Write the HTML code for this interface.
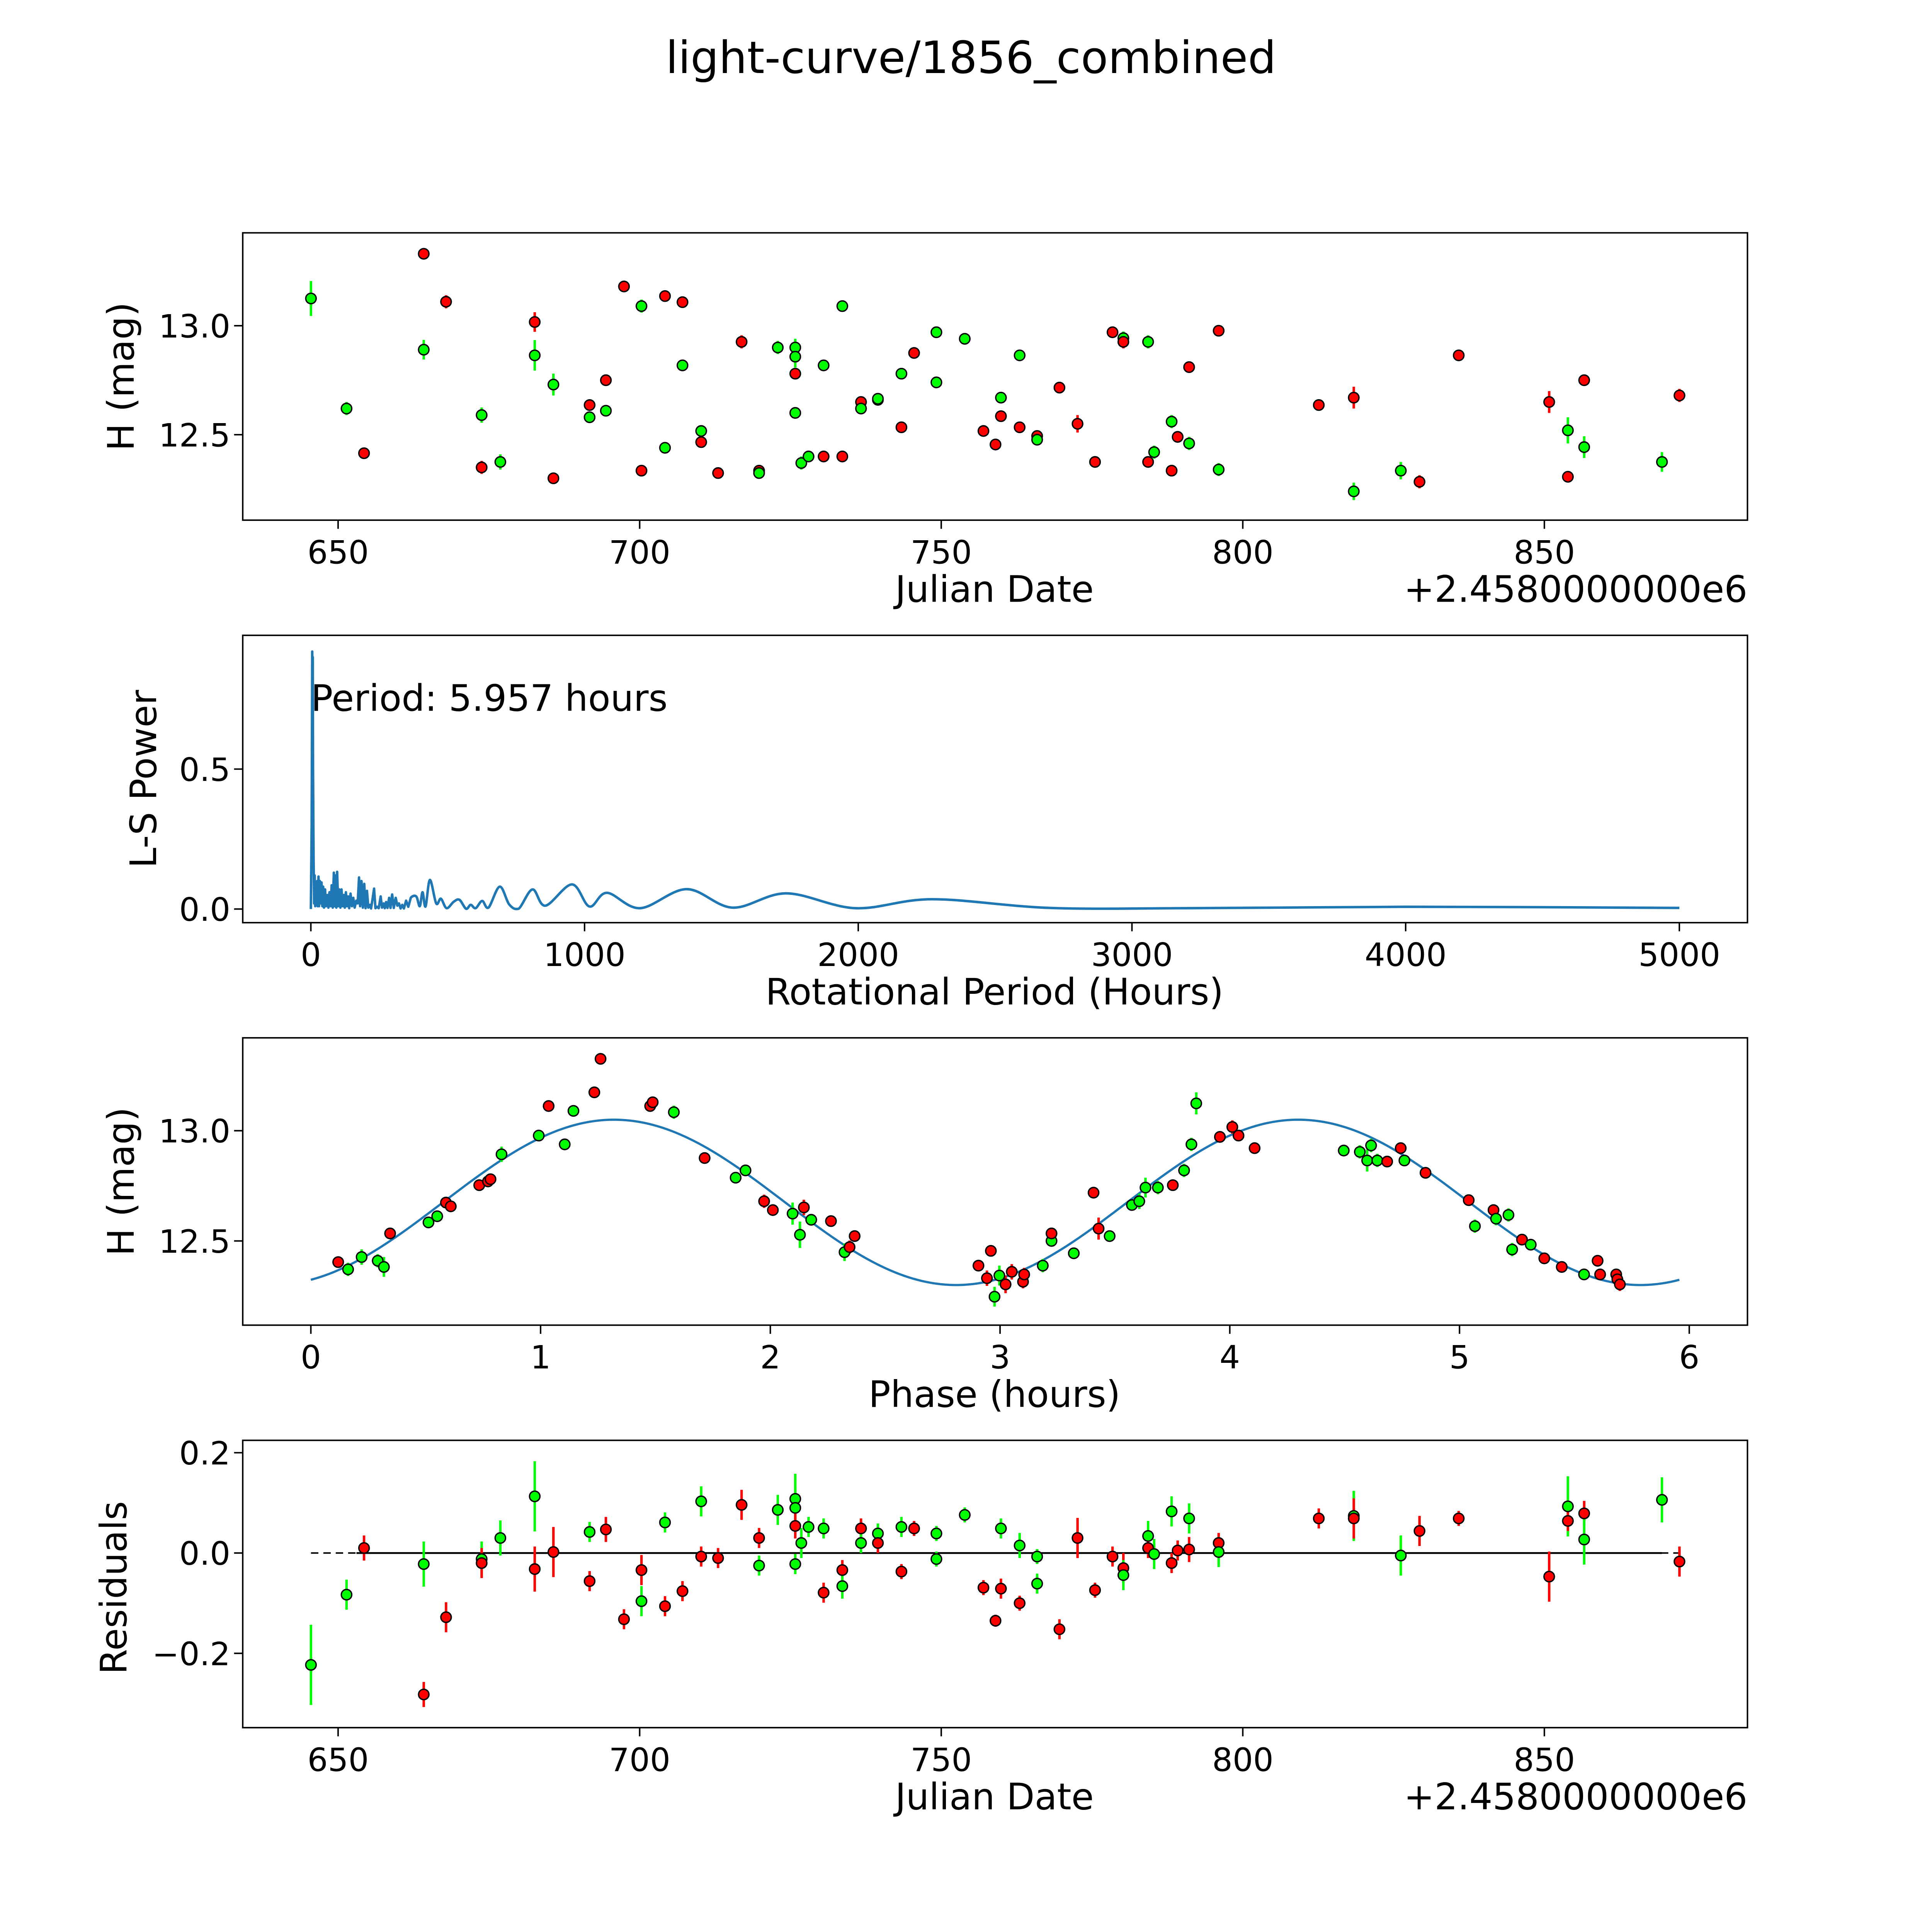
<!DOCTYPE html>
<html><head><meta charset="utf-8"><style>
html,body{margin:0;padding:0;background:#fff;overflow:hidden;width:100%;height:100%;}
svg{display:block;position:absolute;left:0;top:0;width:100vw;height:100vh;font-family:"DejaVu Sans","Liberation Sans",sans-serif;}
</style></head><body>
<svg id="fig" xmlns="http://www.w3.org/2000/svg" viewBox="0 0 1560 1560" preserveAspectRatio="none">
<rect x="0" y="0" width="1560" height="1560" fill="#fff"/>
<text x="784" y="59" font-size="36" text-anchor="middle">light-curve/1856_combined</text>
<g id="g1"></g>
<g id="g2"></g>
<g id="g3"></g>
<g id="g4"></g>
</svg>
<script>
// ---- Panel 1: light curve ----
const lcJD=[645.5,651.4,654.3,664.2,664.2,667.9,673.8,673.8,676.9,682.6,682.6,685.7,685.7,691.7,691.7,694.4,694.4,697.4,700.3,700.3,704.2,704.2,707.1,707.1,710.2,710.2,713.0,716.9,719.8,719.8,722.9,725.8,725.8,725.8,725.8,726.8,728.0,730.5,730.5,733.6,733.6,736.7,736.7,739.5,739.5,743.4,743.4,745.5,749.2,749.2,753.9,757.0,759.0,759.9,759.9,763.0,763.0,765.9,765.9,769.6,772.6,775.5,778.4,780.2,780.2,784.3,784.3,785.3,788.2,788.2,789.2,791.1,791.1,796.0,796.0,812.6,818.4,818.4,826.2,829.3,835.8,850.8,853.9,853.9,856.6,856.6,869.5,872.4];
const lcMag=[13.125,12.62,12.415,13.33,12.89,13.11,12.59,12.35,12.375,13.017,12.864,12.73,12.30,12.636,12.58,12.75,12.61,13.18,13.09,12.335,13.136,12.44,13.108,12.818,12.517,12.466,12.324,12.926,12.335,12.324,12.90,12.90,12.858,12.78,12.60,12.37,12.40,12.40,12.818,13.09,12.40,12.65,12.62,12.66,12.665,12.78,12.534,12.875,12.97,12.74,12.94,12.517,12.455,12.67,12.585,12.864,12.534,12.494,12.477,12.716,12.55,12.375,12.97,12.943,12.926,12.926,12.375,12.42,12.56,12.335,12.49,12.81,12.46,12.977,12.34,12.636,12.67,12.24,12.335,12.284,12.864,12.65,12.52,12.307,12.75,12.443,12.375,12.68];
const lcErr=[0.08,0.03,0.025,0.025,0.045,0.03,0.035,0.03,0.035,0.045,0.07,0.05,0.025,0.02,0.02,0.025,0.02,0.02,0.03,0.02,0.02,0.02,0.015,0.02,0.02,0.02,0.02,0.03,0.02,0.02,0.03,0.04,0.05,0.025,0.02,0.03,0.02,0.02,0.02,0.025,0.02,0.02,0.02,0.02,0.02,0.02,0.015,0.015,0.015,0.015,0.015,0.015,0.012,0.02,0.02,0.025,0.015,0.02,0.015,0.02,0.04,0.015,0.02,0.03,0.03,0.03,0.02,0.03,0.03,0.02,0.02,0.025,0.03,0.02,0.03,0.02,0.05,0.04,0.04,0.03,0.015,0.05,0.06,0.02,0.025,0.05,0.045,0.03];
const lcColor=['g','g','r','r','g','r','g','r','g','r','g','g','r','r','g','r','g','r','g','r','r','g','r','g','g','r','r','r','r','g','g','g','g','r','g','g','g','r','g','g','r','r','g','r','g','g','r','r','g','g','g','r','r','g','r','g','r','r','g','r','r','r','r','g','r','g','r','g','g','r','r','r','g','r','g','r','r','g','g','r','r','r','g','r','r','g','g','r'];

// ---- Panel 2: periodogram ----
const lsPeriod=[0,3,5,6,7,8,10,12,14,16,18,20,23,25,28,30,33,36,39,42,45,48,52,55,60,64,68,72,76,80,84,87,90,93,96,100,104,108,112,116,120,124,128,132,136,140,145,150,155,160,166,171,176,180,185,190,195,200,205,210,216,220,226,231,236,242,248,255,260,266,270,275,280,286,291,297,303,310,316,322,328,334,340,348,356,365,385,398,408,419,435,458,475,496,522,543,567,584,602,626,649,690,725,759,810,857,954,1018,1082,1203,1373,1541,1737,1990,2270,2700,3200,4000,5000];
const lsPower=[0.0,0.3,0.92,0.80,0.9,0.5,0.18,0.02,0.12,0.01,0.09,0.02,0.1,0.01,0.116,0.01,0.1,0.02,0.095,0.01,0.08,0.005,0.07,0.01,0.05,0.005,0.06,0.01,0.085,0.005,0.13,0.01,0.12,0.005,0.133,0.01,0.07,0.005,0.07,0.01,0.05,0.005,0.06,0.01,0.045,0.003,0.055,0.01,0.04,0.005,0.03,0.02,0.113,0.01,0.1,0.005,0.09,0.003,0.065,0.005,0.015,0.002,0.04,0.073,0.003,0.008,0.003,0.045,0.005,0.02,0.003,0.025,0.004,0.04,0.004,0.052,0.004,0.04,0.012,0.02,0.002,0.015,0.002,0.03,0.008,0.04,0.045,0.01,0.06,0.009,0.104,0.02,0.037,0.003,0.026,0.033,0.001,0.015,0.003,0.029,0.005,0.08,0.016,0.001,0.07,0.012,0.088,0.009,0.058,0.003,0.071,0.005,0.056,0.003,0.035,0.004,0.003,0.008,0.004];
const lsXTicks=[0,1000,2000,3000,4000,5000];
const lsYTicks=[0.0,0.5];

// ---- Panel 3: phased ----
const phPhase=[0.119,0.162,0.221,0.291,0.318,0.345,0.512,0.55,0.588,0.609,0.733,0.771,0.782,0.83,0.992,1.035,1.105,1.143,1.234,1.261,1.477,1.488,1.58,1.714,1.849,1.892,1.973,2.011,2.097,2.129,2.146,2.178,2.264,2.323,2.345,2.367,2.906,2.943,2.96,2.976,2.997,3.024,3.051,3.1,3.105,3.186,3.224,3.224,3.321,3.407,3.429,3.477,3.574,3.606,3.633,3.687,3.752,3.801,3.833,3.854,3.957,4.011,4.038,4.108,4.496,4.566,4.598,4.615,4.642,4.685,4.744,4.76,4.852,5.04,5.067,5.148,5.159,5.213,5.229,5.272,5.31,5.369,5.445,5.542,5.601,5.612,5.682,5.687,5.698];
const phMag=[12.404,12.371,12.427,12.41,12.382,12.534,12.584,12.612,12.674,12.657,12.753,12.77,12.78,12.893,12.978,13.112,12.938,13.09,13.174,13.326,13.112,13.129,13.084,12.876,12.787,12.82,12.68,12.64,12.624,12.528,12.652,12.596,12.59,12.449,12.472,12.522,12.388,12.331,12.455,12.247,12.343,12.303,12.36,12.315,12.348,12.388,12.5,12.534,12.444,12.719,12.556,12.522,12.663,12.68,12.742,12.742,12.753,12.82,12.938,13.124,12.972,13.017,12.978,12.921,12.91,12.904,12.865,12.933,12.865,12.86,12.921,12.865,12.809,12.685,12.567,12.64,12.601,12.618,12.461,12.506,12.483,12.421,12.382,12.348,12.41,12.348,12.348,12.326,12.303];
const phErr=[0.025,0.03,0.035,0.03,0.045,0.02,0.02,0.02,0.015,0.015,0.02,0.025,0.02,0.035,0.02,0.02,0.02,0.025,0.02,0.025,0.015,0.02,0.03,0.015,0.025,0.02,0.03,0.025,0.05,0.06,0.035,0.025,0.02,0.04,0.03,0.02,0.02,0.035,0.02,0.045,0.045,0.04,0.035,0.03,0.03,0.03,0.025,0.02,0.02,0.025,0.05,0.025,0.02,0.035,0.045,0.03,0.025,0.03,0.03,0.05,0.02,0.03,0.02,0.025,0.025,0.03,0.05,0.03,0.03,0.02,0.02,0.02,0.02,0.02,0.03,0.02,0.03,0.03,0.03,0.02,0.02,0.02,0.015,0.02,0.02,0.02,0.02,0.025,0.03];
const phColor=['r','g','g','g','g','r','g','g','r','r','r','r','r','g','g','r','g','g','r','r','r','r','g','r','g','g','r','r','g','g','r','g','r','g','r','r','r','r','r','g','g','r','r','r','r','g','g','r','g','r','r','g','g','g','g','g','r','g','g','g','r','r','r','r','g','g','g','g','g','r','r','g','r','r','g','r','g','g','g','r','g','r','r','g','r','r','r','r','r'];
const fitMean=12.675, fitAmp=0.375, fitPhase0=0.575, fitHalfPeriod=2.9785, fitSpan=5.957;

// ---- Panel 4: residuals ----
const rsJD=[645.5,651.4,654.3,664.2,664.2,667.9,673.8,673.8,676.9,682.6,682.6,685.7,691.7,691.7,694.4,697.4,700.3,700.3,704.2,704.2,707.1,710.2,710.2,713.0,716.9,719.8,719.8,722.9,725.8,725.8,725.8,725.8,726.8,728.0,730.5,730.5,733.6,733.6,736.7,736.7,739.5,739.5,743.4,743.4,745.5,749.2,749.2,753.9,757.0,759.0,759.9,759.9,763.0,763.0,765.9,765.9,769.6,772.6,775.5,778.4,780.2,780.2,784.3,784.3,785.3,788.2,788.2,789.2,791.1,791.1,796.0,796.0,812.6,818.4,818.4,826.2,829.3,835.8,850.8,853.9,853.9,856.6,856.6,869.5,872.4];
const rsVal=[-0.223,-0.083,0.01,-0.282,-0.022,-0.128,-0.012,-0.02,0.03,0.113,-0.032,0.002,0.042,-0.056,0.047,-0.132,-0.034,-0.096,0.061,-0.106,-0.076,0.103,-0.007,-0.01,0.096,0.03,-0.025,0.086,0.108,0.09,0.054,-0.022,0.02,0.052,0.049,-0.079,-0.034,-0.066,0.049,0.02,0.039,0.02,0.052,-0.037,0.049,0.039,-0.012,0.076,-0.069,-0.135,0.049,-0.071,0.015,-0.1,-0.007,-0.061,-0.152,0.03,-0.074,-0.007,-0.03,-0.044,0.034,0.01,-0.002,0.083,-0.02,0.005,0.069,0.007,0.02,0.002,0.069,0.074,0.069,-0.005,0.044,0.069,-0.047,0.093,0.064,0.079,0.027,0.106,-0.017];
const rsErr=[0.08,0.03,0.025,0.025,0.045,0.03,0.035,0.03,0.035,0.07,0.045,0.05,0.02,0.02,0.025,0.02,0.03,0.03,0.02,0.02,0.02,0.03,0.02,0.02,0.03,0.02,0.02,0.03,0.05,0.04,0.025,0.02,0.03,0.02,0.02,0.02,0.02,0.025,0.02,0.02,0.02,0.02,0.02,0.015,0.015,0.015,0.015,0.015,0.015,0.012,0.02,0.02,0.025,0.015,0.015,0.02,0.02,0.04,0.015,0.02,0.03,0.03,0.03,0.02,0.03,0.03,0.02,0.02,0.03,0.025,0.02,0.03,0.02,0.05,0.04,0.04,0.03,0.015,0.05,0.06,0.02,0.025,0.05,0.045,0.03];
const rsColor=['g','g','r','r','g','r','g','r','g','g','r','r','g','r','r','r','r','g','g','r','r','g','r','r','r','r','g','g','g','g','r','g','g','g','g','r','r','g','r','g','g','r','g','r','r','g','g','g','r','r','g','r','g','r','g','g','r','r','r','r','r','g','g','r','g','g','r','r','g','r','r','g','r','g','r','g','r','r','r','g','r','r','g','g','r'];

const jdTicks=[650,700,750,800,850];
const COL={r:'#ff0000',g:'#00ff00'};
const NS='http://www.w3.org/2000/svg';
function lin(d0,d1,p0,p1){return v=>p0+(v-d0)*(p1-p0)/(d1-d0);}
function mk(parent,tag,attrs,text){const e=document.createElementNS(NS,tag);for(const k in attrs)e.setAttribute(k,attrs[k]);if(text!==undefined)e.textContent=text;parent.appendChild(e);return e;}
const L=196,R=1411;
function frame(g,top,bottom,xs,xTicks,xFmt,ys,yTicks,yFmt){
  const f=mk(g,'rect',{x:L,y:top,width:R-L,height:bottom-top,fill:'none',stroke:'#000','stroke-width':1.2});
  
  
  xTicks.forEach(t=>{const x=xs(t);
    const tk=mk(g,'line',{x1:x,x2:x,y1:bottom,y2:bottom+7,stroke:'#000','stroke-width':1.2});
    
    
    const tl=mk(g,'text',{x:x,y:bottom+35,'font-size':26,'text-anchor':'middle'},xFmt(t));
    
    });
  yTicks.forEach(t=>{const y=ys(t);
    const tk=mk(g,'line',{x1:L-7,x2:L,y1:y,y2:y,stroke:'#000','stroke-width':1.2});
    
    
    const tl=mk(g,'text',{x:186,y:y+9.5,'font-size':26,'text-anchor':'end'},yFmt(t));
    
    });
}
function label(g,x,y,txt,name,rot,anchor){
  const a={x:x,y:y,'font-size':29.5,'text-anchor':anchor||'middle'};
  if(rot)a.transform='rotate(-90 '+x+' '+y+')';
  const t=mk(g,'text',a,txt);
  
  
}
function points(g,xs,ys,X,Y,E,C,name){
  for(let i=0;i<X.length;i++){const x=xs(X[i]);
    const eb=mk(g,'line',{x1:x,x2:x,y1:ys(Y[i]-E[i]),y2:ys(Y[i]+E[i]),stroke:COL[C[i]],'stroke-width':2});
    
    }
  for(let i=0;i<X.length;i++){const x=xs(X[i]),y=ys(Y[i]);
    const c=mk(g,'circle',{cx:x,cy:y,r:4.2,fill:COL[C[i]],stroke:'#000','stroke-width':1.1});
    
    }
}
const fmt1=v=>v.toFixed(1);
const fmtS=v=>(v<0?'\u2212':'')+Math.abs(v).toFixed(1);
// Panel 1
{const g=document.getElementById('g1');const xs=lin(650,850,273,1247),ys=lin(12.5,13.0,351,263);
 frame(g,188,420,xs,jdTicks,String,ys,[12.5,13.0],fmt1);
 points(g,xs,ys,lcJD,lcMag,lcErr,lcColor,'light-curve');
 label(g,803,486,'Julian Date','x-axis-title');
 label(g,1411,486,'+2.4580000000e6','x-axis-offset',false,'end');
 label(g,108,304,'H (mag)','y-axis-title',true);}
// Panel 2
{const g=document.getElementById('g2');const xs=lin(0,5000,251,1356),ys=lin(0,0.5,734,621);
 frame(g,513,745,xs,lsXTicks,String,ys,lsYTicks,fmt1);
 const P=lsPeriod.map((p,i)=>[xs(p),ys(lsPower[i])]);
 let d='M'+P[0][0]+','+P[0][1];
 for(let i=1;i<P.length;i++){
   if(lsPeriod[i]<=365){d+='L'+P[i][0].toFixed(2)+','+P[i][1].toFixed(2);}
   else{const p0=P[i-2]||P[i-1],p1=P[i-1],p2=P[i],p3=P[i+1]||P[i];
     const c1x=p1[0]+(p2[0]-p0[0])/6,c1y=p1[1]+(p2[1]-p0[1])/6,c2x=p2[0]-(p3[0]-p1[0])/6,c2y=p2[1]-(p3[1]-p1[1])/6;
     d+='C'+c1x.toFixed(2)+','+Math.min(c1y,734.5).toFixed(2)+' '+c2x.toFixed(2)+','+Math.min(c2y,734.5).toFixed(2)+' '+p2[0].toFixed(2)+','+p2[1].toFixed(2);}
 }
 const ln=mk(g,'path',{d:d,fill:'none',stroke:'#1f77b4','stroke-width':2,'stroke-linejoin':'round'});
 
 
 label(g,251,574,'Period: 5.957 hours','period-annotation',false,'start');
 label(g,803,811,'Rotational Period (Hours)','x-axis-title');
 label(g,126,629,'L-S Power','y-axis-title',true);}
// Panel 3
{const g=document.getElementById('g3');const xs=lin(0,6,251,1364),ys=lin(12.5,13,1002,913);
 frame(g,838,1070,xs,[0,1,2,3,4,5,6],String,ys,[12.5,13.0],fmt1);
 let d='';for(let k=0;k<=300;k++){const ph=fitSpan*k/300;const m=fitMean+fitAmp*Math.sin(2*Math.PI*(ph-fitPhase0)/fitHalfPeriod);d+=(k?'L':'M')+xs(ph).toFixed(2)+','+ys(m).toFixed(2);}
 const fl=mk(g,'path',{d:d,fill:'none',stroke:'#1f77b4','stroke-width':1.8});
 
 
 points(g,xs,ys,phPhase,phMag,phErr,phColor,'phased');
 label(g,803,1136,'Phase (hours)','x-axis-title');
 label(g,108,954,'H (mag)','y-axis-title',true);}
// Panel 4
{const g=document.getElementById('g4');const xs=lin(650,850,273,1247),ys=lin(0,0.2,1254,1173);
 frame(g,1163,1395,xs,jdTicks,String,ys,[-0.2,0.0,0.2],fmtS);
 const dl=mk(g,'line',{x1:xs(rsJD[0]),x2:xs(rsJD[rsJD.length-1]),y1:ys(0),y2:ys(0),stroke:'#000','stroke-width':1.2,'stroke-dasharray':'6,4'});
 
 
 const sl=mk(g,'line',{x1:xs(rsJD[1])+8,x2:xs(rsJD[rsJD.length-2]),y1:ys(0),y2:ys(0),stroke:'#000','stroke-width':1.5});
 
 
 points(g,xs,ys,rsJD,rsVal,rsErr,rsColor,'residual');
 label(g,803,1461,'Julian Date','x-axis-title');
 label(g,1411,1461,'+2.4580000000e6','x-axis-offset',false,'end');
 label(g,102,1282,'Residuals','y-axis-title',true);}
</script>
</body></html>
